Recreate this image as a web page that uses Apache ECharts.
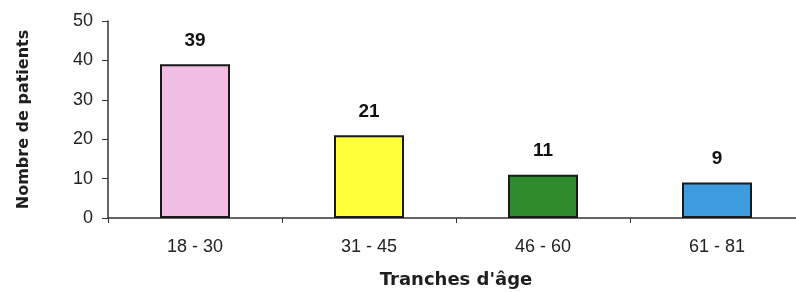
<!DOCTYPE html>
<html>
<head>
<meta charset="utf-8">
<script src="https://cdn.jsdelivr.net/npm/echarts@6/dist/echarts.min.js"></script>
<style>
html, body { margin: 0; padding: 0; background: #fff; }
#main { width: 796px; height: 292px; }
</style>
</head>
<body>
<div id="main"></div>
<script>
// tranches d'âge et nombre de patients
var categories = ['18 - 30', '31 - 45', '46 - 60', '61 - 81'];
var patients = [39, 21, 11, 9];
var barColors = ['#f2bde3', '#ffff3a', '#2e8b2e', '#3d9be0'];

var myChart = echarts.init(document.getElementById('main'));

var option = {
	animation : false,
	textStyle : {
		fontFamily : 'Liberation Sans, Arial, sans-serif'
	},
	grid : {
		left : 108,
		top : 21,
		width : 696,
		height : 197,
		outerBoundsMode : 'none',
		containLabel : false
	},
	xAxis : {
		type : 'category',
		data : categories,
		name : "Tranches d'âge",
		nameLocation : 'middle',
		nameGap : 53,
		nameTextStyle : {
			fontFamily : 'DejaVu Sans',
			fontSize : 18,
			fontWeight : 'bold',
			color : '#1e1e1e'
		},
		axisLine : {
			lineStyle : { color : '#333', width : 1.5 }
		},
		axisTick : {
			show : true,
			inside : false,
			length : 5,
			lineStyle : { color : '#333' }
		},
		axisLabel : {
			fontSize : 18,
			color : '#222',
			margin : 20,
			interval : 0
		}
	},
	yAxis : {
		type : 'value',
		min : 0,
		max : 50,
		interval : 10,
		name : 'Nombre de patients',
		nameLocation : 'middle',
		nameGap : 76,
		nameTextStyle : {
			fontFamily : 'DejaVu Sans',
			fontSize : 16,
			fontWeight : 'bold',
			color : '#1e1e1e'
		},
		axisLine : {
			show : true,
			lineStyle : { color : '#333', width : 1.5 }
		},
		axisTick : {
			show : true,
			length : 6,
			lineStyle : { color : '#333' }
		},
		axisLabel : {
			fontSize : 18,
			color : '#222',
			margin : 15
		},
		splitLine : { show : false }
	},
	series : [{
		type : 'bar',
		barWidth : 70,
		data : patients.map(function(v, i) {
			return {
				value : v,
				itemStyle : {
					color : barColors[i],
					borderColor : '#1a1a1a',
					borderWidth : 2
				}
			};
		}),
		label : {
			show : true,
			position : 'top',
			distance : 14,
			fontSize : 19,
			fontWeight : 'bold',
			color : '#111'
		}
	}]
};

myChart.setOption(option);
</script>
</body>
</html>
